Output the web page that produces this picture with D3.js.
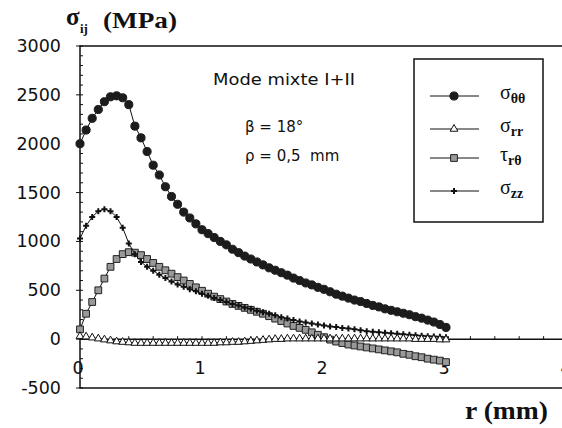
<!DOCTYPE html>
<html>
<head>
<meta charset="utf-8">
<script src="https://cdn.jsdelivr.net/npm/d3@7"></script>
<style>
  body { margin: 0; background: #fff; }
  text { fill: #111; }
</style>
</head>
<body>
<div id="chart"></div>
<script>
// distance r (mm)
const rMm = [0, 0.05, 0.1, 0.15, 0.2, 0.25, 0.3, 0.35, 0.4, 0.45,
  0.5, 0.55, 0.6, 0.65, 0.7, 0.75, 0.8, 0.85, 0.9, 0.95,
  1.0, 1.05, 1.1, 1.15, 1.2, 1.25, 1.3, 1.35, 1.4, 1.45,
  1.5, 1.55, 1.6, 1.65, 1.7, 1.75, 1.8, 1.85, 1.9, 1.95,
  2.0, 2.05, 2.1, 2.15, 2.2, 2.25, 2.3, 2.35, 2.4, 2.45,
  2.5, 2.55, 2.6, 2.65, 2.7, 2.75, 2.8, 2.85, 2.9, 2.95, 3.0];

// contraintes (MPa)
const sigmaTT = [2000, 2140, 2260, 2350, 2430, 2480, 2490, 2470, 2400, 2180,
  2060, 1920, 1780, 1680, 1560, 1460, 1380, 1300, 1240, 1180,
  1120, 1080, 1040, 1000, 965, 920, 885, 850, 820, 790,
  760, 730, 705, 680, 655, 625, 600, 575, 555, 530,
  510, 485, 460, 440, 420, 400, 385, 365, 345, 330,
  310, 295, 280, 265, 250, 230, 215, 195, 175, 150, 120];

const sigmaRR = [30, 25, 15, 5, -5, -15, -25, -30, -35, -40,
  -40, -40, -40, -40, -40, -40, -40, -40, -40, -40,
  -40, -40, -40, -35, -35, -30, -30, -25, -20, -15,
  -10, -5, 0, 0, 5, 5, 5, 5, 5, 5,
  5, 5, 5, 5, 5, 5, 5, 5, 5, 5,
  5, 5, 5, 5, 5, 0, 0, 0, 0, -5, -5];

const tauRT = [100, 260, 380, 500, 620, 740, 820, 870, 890, 885,
  860, 820, 780, 740, 705, 670, 635, 600, 565, 530,
  495, 465, 435, 410, 385, 360, 340, 320, 300, 280,
  260, 235, 210, 185, 160, 135, 115, 95, 70, 45,
  20, -5, -25, -40, -55, -65, -75, -85, -95, -105,
  -115, -125, -135, -150, -160, -175, -185, -200, -210, -220, -235];

const sigmaZZ = [1030, 1160, 1250, 1310, 1330, 1310, 1250, 1140, 980, 870,
  790, 740, 700, 660, 625, 590, 560, 535, 510, 490,
  465, 445, 420, 400, 380, 360, 345, 325, 310, 290,
  275, 260, 245, 225, 210, 195, 180, 170, 160, 150,
  140, 130, 125, 115, 110, 100, 90, 82, 75, 70,
  65, 60, 55, 50, 45, 40, 35, 30, 28, 24, 20];

const yTicks = [-500, 0, 500, 1000, 1500, 2000, 2500, 3000];
const xTicks = [0, 1, 2, 3, 4];

const width = 562, height = 428;

const x = d3.scaleLinear().domain([0, 4]).range([80, 568]);
const y = d3.scaleLinear().domain([-500, 3000]).range([388, 46]);

const svg = d3.select("#chart").append("svg")
  .attr("width", width)
  .attr("height", height)
  .style("font-family", "'DejaVu Sans', sans-serif");

// cadre
svg.append("rect")
  .attr("x", x(0)).attr("y", y(3000))
  .attr("width", x(4) - x(0)).attr("height", y(-500) - y(3000))
  .attr("fill", "none").attr("stroke", "#111").attr("stroke-width", 1.5);

// axe X sur y = 0
svg.append("line")
  .attr("x1", x(0)).attr("x2", x(4))
  .attr("y1", y(0)).attr("y2", y(0))
  .attr("stroke", "#111").attr("stroke-width", 1.5);

// petites graduations X (tous les 0.2)
svg.append("g").selectAll("line")
  .data(x.ticks(20))
  .enter().append("line")
  .attr("x1", (d) => x(d)).attr("x2", (d) => x(d))
  .attr("y1", y(0)).attr("y2", y(0) - 3)
  .attr("stroke", "#111");

// graduations Y
svg.append("g").selectAll("line")
  .data(y.ticks(35))
  .enter().append("line")
  .attr("x1", x(0)).attr("x2", x(0) + 3)
  .attr("y1", (d) => y(d)).attr("y2", (d) => y(d))
  .attr("stroke", "#111");

svg.append("g").selectAll("line")
  .data(yTicks)
  .enter().append("line")
  .attr("x1", x(0) - 4).attr("x2", x(0))
  .attr("y1", (d) => y(d)).attr("y2", (d) => y(d))
  .attr("stroke", "#111");

svg.append("g").selectAll("text")
  .data(yTicks)
  .enter().append("text")
  .attr("x", 61)
  .attr("y", (d) => y(d) + 6)
  .attr("text-anchor", "end")
  .style("font-size", "17.5px")
  .text((d) => d);

svg.append("g").selectAll("text")
  .data(xTicks)
  .enter().append("text")
  .attr("x", (d) => x(d) - 2)
  .attr("y", y(0) + 35)
  .attr("text-anchor", "middle")
  .style("font-size", "17.5px")
  .text((d) => d);

// titres des axes
const yTitle = svg.append("g").style("font-family", "'Liberation Serif', serif").style("font-weight", "bold");
yTitle.append("text").attr("x", 66).attr("y", 25).style("font-size", "25px").text("σ");
yTitle.append("text").attr("x", 80).attr("y", 33).style("font-size", "13px").text("ij");
yTitle.append("text").attr("x", 103).attr("y", 28).style("font-size", "23px")
  .attr("textLength", 74).attr("lengthAdjust", "spacingAndGlyphs").text("(MPa)");

svg.append("text")
  .attr("x", 465).attr("y", 419)
  .style("font-family", "'Liberation Serif', serif").style("font-weight", "bold")
  .style("font-size", "25px")
  .attr("textLength", 83).attr("lengthAdjust", "spacingAndGlyphs")
  .text("r (mm)");

// annotations
svg.append("text").attr("x", 213).attr("y", 85).style("font-size", "15px")
  .attr("textLength", 142).attr("lengthAdjust", "spacingAndGlyphs").text("Mode mixte I+II");
svg.append("text").attr("x", 245).attr("y", 132).style("font-size", "15px").text("β = 18°");
svg.append("text").attr("x", 245).attr("y", 161).style("font-size", "15px")
  .attr("xml:space", "preserve").text("ρ = 0,5  mm");

// séries
const series = [
  { key: "tau", values: tauRT, sym: d3.symbolSquare, size: 46, fill: "#999", stroke: "#222" },
  { key: "zz", values: sigmaZZ, sym: d3.symbolCross, size: 20, fill: "#111", stroke: "none" },
  { key: "rr", values: sigmaRR, sym: d3.symbolTriangle, size: 26, fill: "#fff", stroke: "#111" },
  { key: "tt", values: sigmaTT, sym: d3.symbolCircle, size: 52, fill: "#1c1c1c", stroke: "#1c1c1c" }
];

const line = d3.line()
  .x((d) => x(d[0]))
  .y((d) => y(d[1]));

series.forEach((s) => {
  const pts = rMm.map((r, i) => [r, s.values[i]]);
  svg.append("path")
    .datum(pts)
    .attr("d", line)
    .attr("fill", "none")
    .attr("stroke", "#111")
    .attr("stroke-width", 1);
  svg.append("g").selectAll("path")
    .data(pts)
    .enter().append("path")
    .attr("transform", (d) => `translate(${x(d[0])},${y(d[1])})`)
    .attr("d", d3.symbol().type(s.sym).size(s.size))
    .attr("fill", s.fill)
    .attr("stroke", s.stroke)
    .attr("stroke-width", 1);
});

// légende
const legend = svg.append("g");
legend.append("rect")
  .attr("x", 414).attr("y", 59).attr("width", 129).attr("height", 163)
  .attr("fill", "#fff").attr("stroke", "#111").attr("stroke-width", 1.5);

const legendItems = [
  { s: series[3], name: "σ", sub: "θθ", cy: 96 },
  { s: series[2], name: "σ", sub: "rr", cy: 129 },
  { s: series[0], name: "τ", sub: "rθ", cy: 158 },
  { s: series[1], name: "σ", sub: "zz", cy: 191 }
];

legendItems.forEach((it) => {
  legend.append("line")
    .attr("x1", 430).attr("x2", 479)
    .attr("y1", it.cy).attr("y2", it.cy)
    .attr("stroke", "#111");
  legend.append("path")
    .attr("transform", `translate(454,${it.cy})`)
    .attr("d", d3.symbol().type(it.s.sym).size(it.s.size))
    .attr("fill", it.s.fill)
    .attr("stroke", it.s.stroke);
  const t = legend.append("text")
    .attr("x", 500).attr("y", it.cy + 3)
    .style("font-family", "'Liberation Serif', serif");
  t.append("tspan").style("font-size", "20px").text(it.name);
  t.append("tspan").attr("dy", 4).style("font-size", "14px").style("font-weight", "bold").text(it.sub);
});
</script>
</body>
</html>
